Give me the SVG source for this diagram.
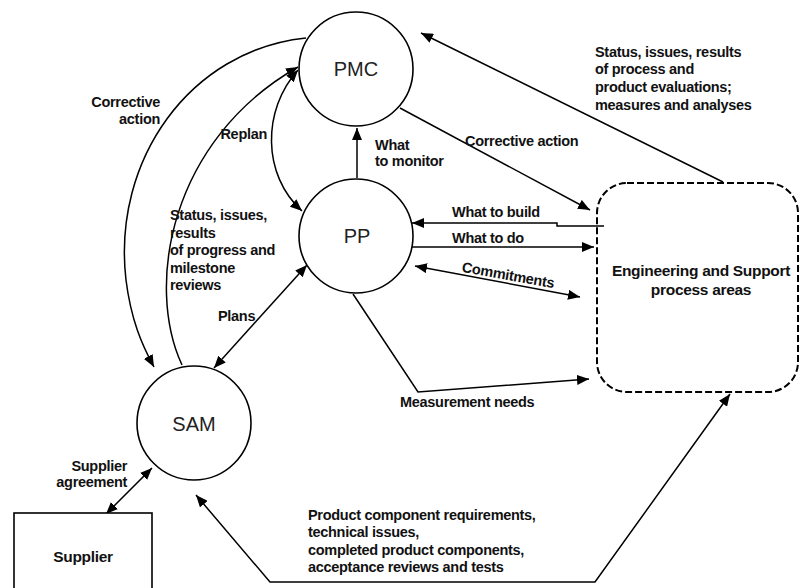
<svg xmlns="http://www.w3.org/2000/svg" width="800" height="588" viewBox="0 0 800 588">
<style>
.lbl{font-family:"Liberation Sans",Arial,sans-serif;font-size:14.5px;font-weight:bold;fill:#111;letter-spacing:-0.3px}
.node{font-family:"Liberation Sans",Arial,sans-serif;font-size:20px;fill:#222}
.big{font-family:"Liberation Sans",Arial,sans-serif;font-size:15.5px;font-weight:bold;fill:#111;letter-spacing:-0.3px}
.c{fill:#fff;stroke:#000;stroke-width:1.6}
.ln{fill:none;stroke:#000;stroke-width:1.5}
</style>
<defs>
<marker id="ah" viewBox="0 0 12 10" refX="12" refY="5" markerWidth="12" markerHeight="10" markerUnits="userSpaceOnUse" orient="auto-start-reverse">
<path d="M0,0 L12,5 L0,10 Z" fill="#000"/>
</marker>
</defs>
<rect width="800" height="588" fill="#fff"/>
<g id="connectors">
<path class="ln" d="M723,182 L421,33" marker-end="url(#ah)"/>
<path class="ln" d="M400,108 L590,210" marker-end="url(#ah)"/>
<path class="ln" d="M604,226 L557,226 L557,223 L412,223" marker-end="url(#ah)"/>
<path class="ln" d="M412,247 L594,247" marker-end="url(#ah)"/>
<path class="ln" d="M415,266 L580,297" marker-start="url(#ah)" marker-end="url(#ah)"/>
<path class="ln" d="M353,294 L418,392 L589,379" marker-end="url(#ah)"/>
<path class="ln" d="M730,394 L595,582 L270,582 L196,495" marker-start="url(#ah)" marker-end="url(#ah)"/>
<path class="ln" d="M357,178 L357,128" marker-end="url(#ah)"/>
<path class="ln" d="M298,70 C262,110 262,175 302,211" marker-start="url(#ah)" marker-end="url(#ah)"/>
<path class="ln" d="M182,365 C145,285 170,140 298,67" marker-end="url(#ah)"/>
<path class="ln" d="M306,38 C190,50 112,160 126,280 C131,320 142,345 154,367" marker-end="url(#ah)"/>
<path class="ln" d="M307,265 L214,368" marker-start="url(#ah)" marker-end="url(#ah)"/>
<path class="ln" d="M152,468 L106,514" marker-start="url(#ah)" marker-end="url(#ah)"/>
</g>
<g id="PMC">
<circle class="c" cx="356" cy="69" r="57"/>
<text class="node" x="356" y="76" text-anchor="middle">PMC</text>
</g>
<g id="PP">
<circle class="c" cx="356" cy="236" r="57"/>
<text class="node" x="357" y="243" text-anchor="middle">PP</text>
</g>
<g id="SAM">
<circle class="c" cx="194" cy="423" r="57"/>
<text class="node" x="194" y="431" text-anchor="middle" font-size="21">SAM</text>
</g>
<g id="Supplier">
<rect x="14" y="513" width="138" height="90" fill="#fff" stroke="#000" stroke-width="1.6"/>
<text class="big" x="83" y="562" text-anchor="middle">Supplier</text>
</g>
<g id="Engineering">
<rect x="597" y="183" width="201" height="209" rx="30" ry="30" fill="none" stroke="#000" stroke-width="2" stroke-dasharray="7,3"/>
<text class="big" x="701" y="276" text-anchor="middle">Engineering and Support</text>
<text class="big" x="701" y="295" text-anchor="middle">process areas</text>
</g>
<g id="labels">
<text class="lbl" x="595" y="57">Status, issues, results</text>
<text class="lbl" x="595" y="74">of process and</text>
<text class="lbl" x="595" y="92">product evaluations;</text>
<text class="lbl" x="595" y="110">measures and analyses</text>
<text class="lbl" x="465" y="146">Corrective action</text>
<text class="lbl" x="452" y="217">What to build</text>
<text class="lbl" x="452" y="243">What to do</text>
<text class="lbl" x="508" y="280" text-anchor="middle" transform="rotate(10 508 276)">Commitments</text>
<text class="lbl" x="375" y="150">What</text>
<text class="lbl" x="375" y="166">to monitor</text>
<text class="lbl" x="267" y="139" text-anchor="end">Replan</text>
<text class="lbl" x="160" y="107" text-anchor="end">Corrective</text>
<text class="lbl" x="160" y="124" text-anchor="end">action</text>
<text class="lbl" x="170" y="220">Status, issues,</text>
<text class="lbl" x="170" y="238">results</text>
<text class="lbl" x="170" y="255">of progress and</text>
<text class="lbl" x="170" y="273">milestone</text>
<text class="lbl" x="170" y="290">reviews</text>
<text class="lbl" x="218" y="321">Plans</text>
<text class="lbl" x="127" y="471" text-anchor="end">Supplier</text>
<text class="lbl" x="127" y="487" text-anchor="end">agreement</text>
<text class="lbl" x="400" y="407">Measurement needs</text>
<text class="lbl" x="308" y="520">Product component requirements,</text>
<text class="lbl" x="308" y="537">technical issues,</text>
<text class="lbl" x="308" y="555">completed product components,</text>
<text class="lbl" x="308" y="572">acceptance reviews and tests</text>
</g>
</svg>
